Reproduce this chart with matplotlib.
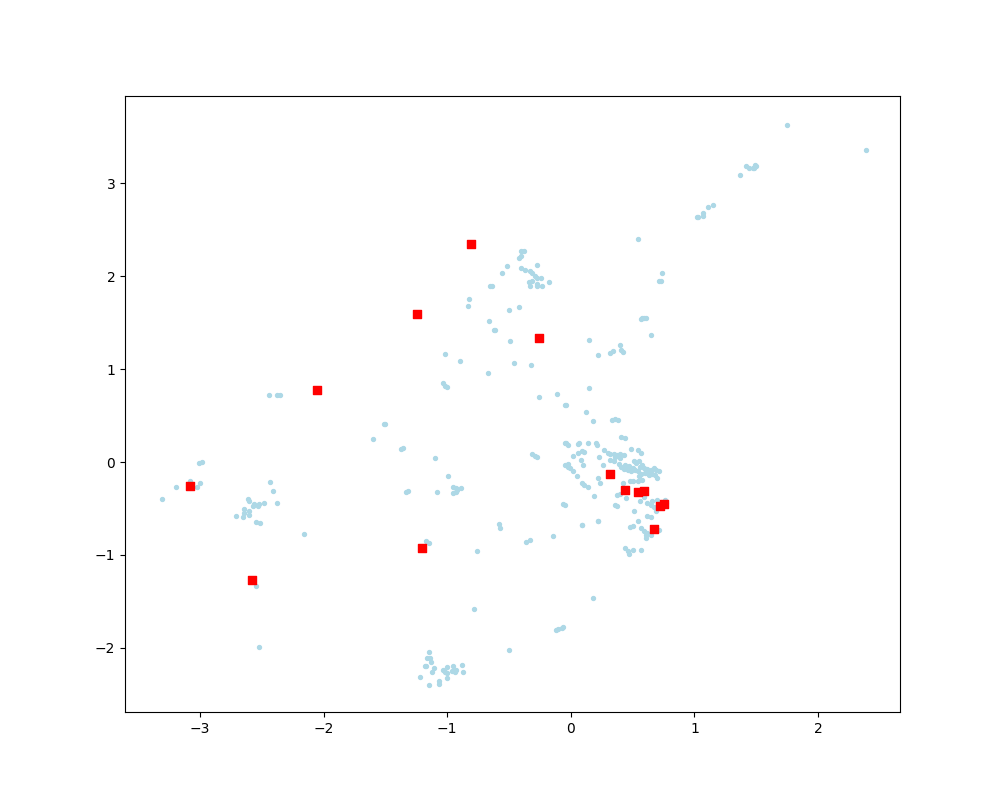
import matplotlib
matplotlib.use('Agg')
import matplotlib.pyplot as plt

# blue sample points
blue_x = [
    1.75, 2.39, 1.42, 1.44, 1.47, 1.49, 1.50, 1.48, 1.37, 1.15, 1.11, 1.07, 1.07, 1.02, 1.03,
    0.74, 0.71, 0.73, 0.54,
    -0.40, -0.38, -0.42, -0.40, -0.52, -0.56, -0.27, -0.40, -0.37, -0.33, -0.31, -0.29, -0.27, -0.24,
    -0.34, -0.31, -0.33, -0.27, -0.27, -0.23, -0.18, -0.65, -0.64, -0.82,
    -0.83, -0.50, -0.42, -0.66, -0.62, -0.61, -0.49, -1.02, -0.90, -0.46, -0.32, -0.67,
    -1.03, -1.02, -1.00, -0.26, -0.11, -0.05, -1.50, -0.05, -1.37, -1.36, -1.10,
    -0.31, -0.29, -0.27, -0.99, -1.33, -1.32, -1.08, -0.95, -0.93, -0.92, -0.95, -0.93, -0.89,
    -0.05, -0.06,
    -2.44, -2.38, -2.35, -1.51, -1.60, -3.01, -2.98, -3.08, -3.19, -3.02, -3.00, -3.31,
    -2.43, -2.41, -2.61, -2.60, -2.56, -2.52, -2.48, -2.38,
    -2.57, -2.53, -2.64, -2.64, -2.60, -2.60, -2.71, -2.65, -2.55, -2.51, -2.16,
    -2.55, -2.52,
    -1.17, -1.15, -0.76, -0.58, -0.57, -0.36, -0.33, -0.14, 0.09, 0.22, 0.36,
    -0.78, 0.18, -0.12, -0.10, -0.06, -0.07, -0.50,
    -1.15, -1.16, -1.14, -1.13, -1.18, -1.17, -1.11, -1.12, -1.22, -1.15, -1.07, -1.07,
    -1.03, -1.02, -1.00, -1.00, -1.00, -0.96, -0.95, -0.93, -0.94, -0.88, -0.87,
    0.58, 0.61, 0.59, 0.57, 0.65, 0.15, 0.22, 0.32, 0.34, 0.40, 0.41, 0.42,
    0.15, -0.04, 0.12, 0.18, 0.33, 0.36, 0.38, 0.41, 0.44,
    -0.04, -0.02, 0.06, 0.07, 0.14, 0.20, 0.21, 0.06, 0.09, 0.11, 0.02, 0.08,
    -0.02, -0.02, -0.01, 0.02, 0.10, 0.05,
    0.27, 0.30, 0.32, 0.35, 0.37, 0.40, 0.43, 0.49, 0.54, 0.57, 0.23, 0.26,
    0.32, 0.35, 0.39, 0.41, 0.43, 0.46, 0.49, 0.51, 0.53, 0.55, 0.58, 0.59, 0.61, 0.62,
    0.65, 0.67, 0.69, 0.66, 0.70, 0.63, 0.57, 0.54, 0.47, 0.44, 0.50,
    0.48, 0.52, 0.56, 0.60, 0.64, 0.68, 0.71, 0.45, 0.55, 0.62, 0.36, 0.40,
    0.22, 0.24, 0.09, 0.11, 0.14, 0.19, -0.05,
    0.42, 0.48, 0.50, 0.54, 0.58, 0.37, 0.40, 0.45, 0.37, 0.51, 0.56, 0.59,
    0.62, 0.65, 0.67, 0.66, 0.70, 0.76, 0.77, 0.69, 0.62, 0.65,
    0.54, 0.22, 0.09, 0.48, 0.50, 0.57, 0.59, 0.62, 0.61, 0.65, 0.71, 0.61,
    0.44, 0.46, 0.47, 0.50, 0.57,
]
blue_y = [
    3.63, 3.36, 3.19, 3.16, 3.17, 3.20, 3.19, 3.16, 3.09, 2.77, 2.74, 2.68, 2.65, 2.64, 2.64,
    2.04, 1.95, 1.95, 2.40,
    2.27, 2.27, 2.20, 2.22, 2.11, 2.04, 2.12, 2.09, 2.07, 2.06, 2.03, 2.00, 1.98, 1.98,
    1.94, 1.95, 1.90, 1.90, 1.92, 1.89, 1.94, 1.89, 1.90, 1.76,
    1.68, 1.64, 1.67, 1.52, 1.42, 1.42, 1.30, 1.16, 1.09, 1.07, 1.05, 0.96,
    0.85, 0.82, 0.81, 0.70, 0.73, 0.61, 0.41, 0.20, 0.14, 0.15, 0.04,
    0.09, 0.06, 0.05, -0.15, -0.32, -0.31, -0.32, -0.27, -0.28, -0.30, -0.33, -0.32, -0.28,
    -0.03, -0.45,
    0.72, 0.72, 0.72, 0.41, 0.25, -0.01, 0.00, -0.20, -0.27, -0.27, -0.22, -0.40,
    -0.21, -0.31, -0.40, -0.42, -0.45, -0.45, -0.44, -0.44,
    -0.47, -0.47, -0.51, -0.55, -0.53, -0.57, -0.58, -0.59, -0.65, -0.66, -0.77,
    -1.33, -1.99,
    -0.85, -0.87, -0.96, -0.67, -0.71, -0.86, -0.84, -0.80, -0.68, -0.63, -0.46,
    -1.58, -1.46, -1.81, -1.80, -1.77, -1.79, -2.02,
    -2.04, -2.11, -2.11, -2.15, -2.20, -2.19, -2.22, -2.26, -2.31, -2.40, -2.36, -2.39,
    -2.24, -2.26, -2.27, -2.21, -2.32, -2.25, -2.20, -2.24, -2.26, -2.18, -2.26,
    1.55, 1.55, 1.55, 1.54, 1.37, 1.31, 1.15, 1.17, 1.20, 1.26, 1.21, 1.18,
    0.80, 0.61, 0.54, 0.44, 0.45, 0.46, 0.45, 0.27, 0.26,
    0.20, 0.18, 0.19, 0.20, 0.20, 0.20, 0.18, 0.10, 0.12, 0.11, 0.06, 0.02,
    -0.02, -0.05, -0.06, -0.10, -0.03, -0.15,
    0.13, 0.10, 0.09, 0.09, 0.08, 0.09, 0.08, 0.14, 0.13, 0.10, 0.05, -0.03,
    0.02, 0.01, -0.02, -0.05, -0.07, -0.09, -0.10, 0.01, -0.01, 0.01, -0.03, -0.06, -0.10, -0.07,
    -0.08, -0.06, -0.09, -0.13, -0.17, -0.14, -0.13, -0.10, -0.04, -0.03, -0.06,
    -0.07, -0.08, -0.05, -0.12, -0.11, -0.14, -0.10, -0.06, -0.15, -0.12, 0.05, 0.04,
    -0.17, -0.23, -0.23, -0.25, -0.27, -0.36, -0.46,
    -0.22, -0.20, -0.20, -0.20, -0.19, -0.35, -0.34, -0.39, -0.47, -0.53, -0.42, -0.38,
    -0.44, -0.46, -0.48, -0.42, -0.41, -0.41, -0.44, -0.53, -0.58, -0.59,
    -0.63, -0.63, -0.68, -0.70, -0.69, -0.71, -0.74, -0.76, -0.79, -0.78, -0.73, -0.82,
    -0.92, -0.96, -0.99, -0.95, -0.95,
]

# red square markers
red_x = [-3.08, -2.58, -2.05, -1.24, -1.20, -0.81, -0.26, 0.32, 0.44, 0.54, 0.59, 0.72, 0.75, 0.67]
red_y = [-0.26, -1.27, 0.78, 1.59, -0.93, 2.35, 1.34, -0.13, -0.30, -0.32, -0.31, -0.47, -0.45, -0.72]

fig, ax = plt.subplots(figsize=(10, 8))
ax.scatter(blue_x, blue_y, c='lightblue', s=8)
ax.scatter(red_x, red_y, c='red', marker='s', s=40)

ax.set_xlim(-3.606, 2.663)
ax.set_ylim(-2.69, 3.94)

fig.savefig('out.png', dpi=100)
